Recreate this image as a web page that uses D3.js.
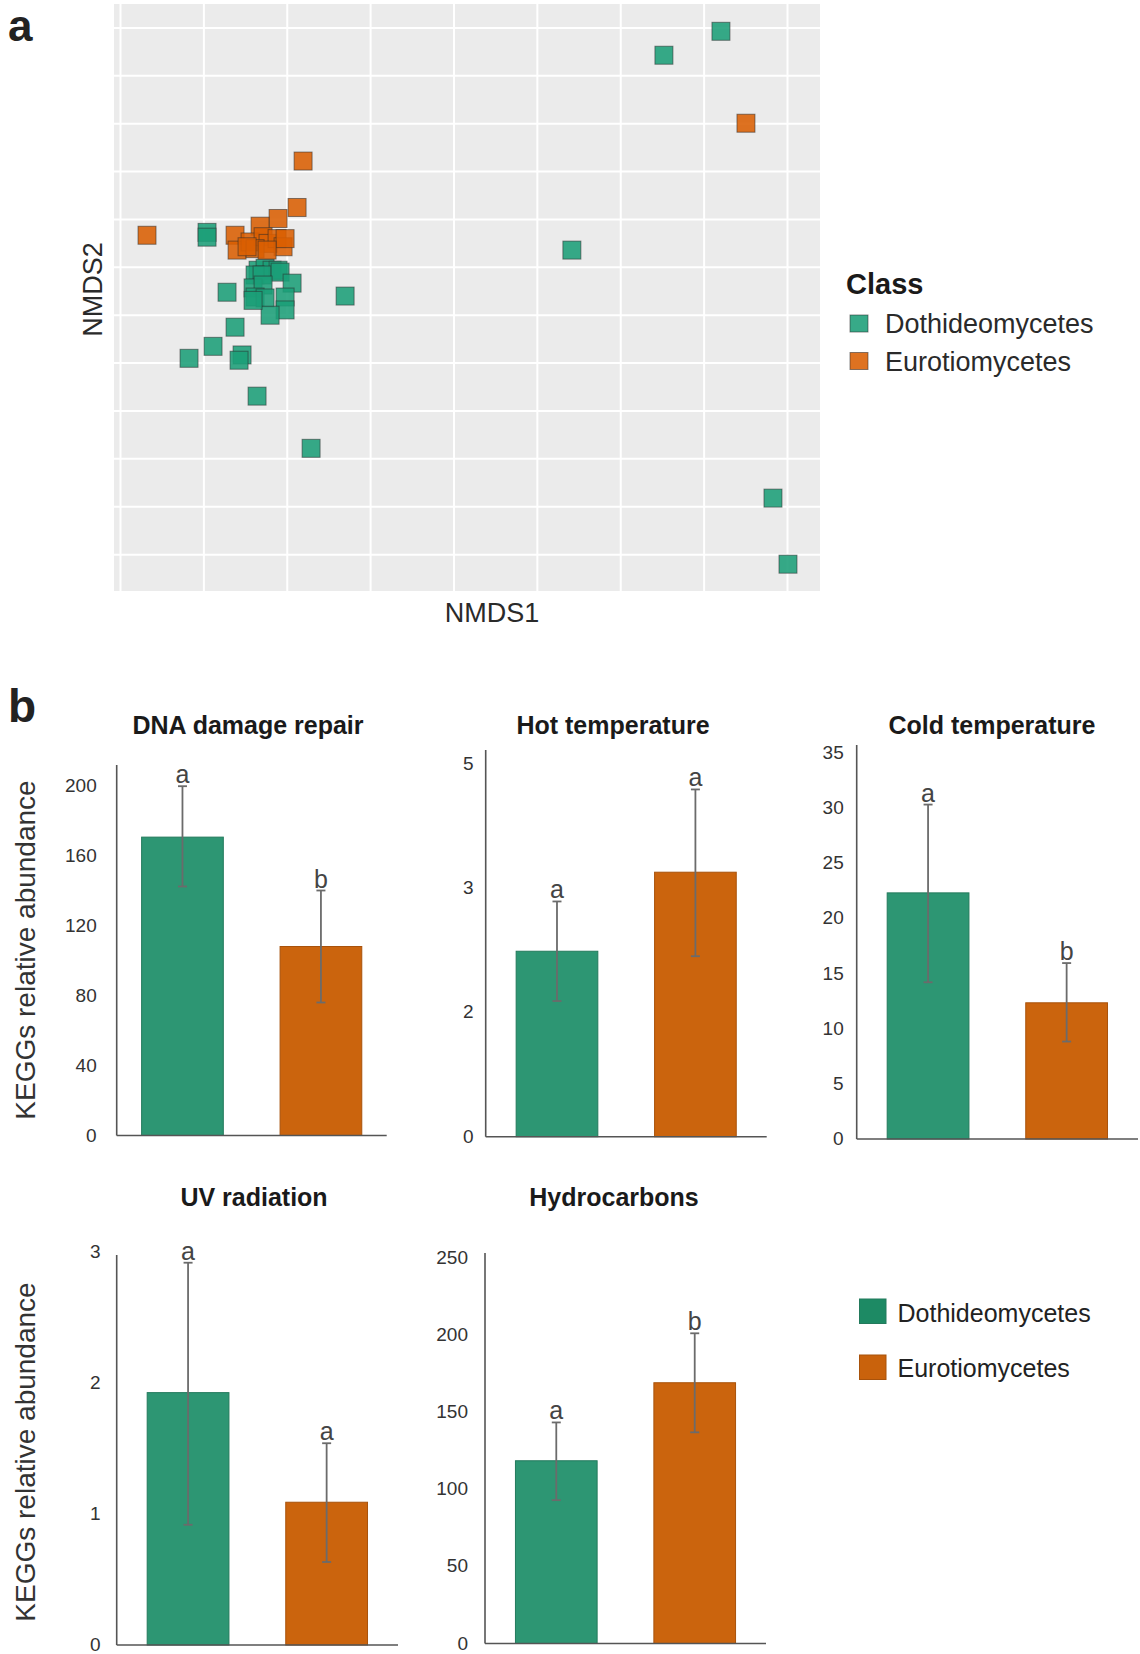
<!DOCTYPE html>
<html>
<head>
<meta charset="utf-8">
<script src="https://cdnjs.cloudflare.com/ajax/libs/d3/7.8.5/d3.min.js"></script>
<style>
body{margin:0;background:#fff;}
text{font-family:"Liberation Sans",Arial,Helvetica,sans-serif;}
</style>
</head>
<body>
<svg id="fig" width="1140" height="1654"></svg>
<script>

// ---- data: panel a (NMDS ordination) ----
var classes = ["Dothideomycetes","Eurotiomycetes"];

var dothX = [-0.239,-0.239,-0.086,-0.065,-0.044,-0.026,-0.095,-0.074,-0.020,-0.179,-0.101,0.016,-0.071,-0.005,-0.095,-0.065,-0.005,-0.050,-0.101,-0.155,0.175,-0.221,-0.293,-0.134,-0.143,-0.089,0.073,0.855,1.131,1.302,1.458,1.503];
var dothY = [0.172,0.162,0.093,0.097,0.093,0.093,0.083,0.083,0.089,0.047,0.056,0.066,0.062,0.037,0.037,0.035,0.010,-0.001,0.030,-0.026,0.039,-0.066,-0.091,-0.084,-0.095,-0.170,-0.279,0.135,0.542,0.592,-0.383,-0.521];

var euroX = [0.049,0.031,-0.026,-0.080,-0.155,-0.149,-0.110,-0.071,-0.056,-0.095,-0.029,-0.011,-0.005,-0.059,-0.119,-0.419,1.377];
var euroY = [0.321,0.224,0.201,0.185,0.166,0.135,0.152,0.163,0.149,0.138,0.159,0.142,0.159,0.135,0.142,0.166,0.400];

var nmdsXBreaks = [-0.5,-0.25,0,0.25,0.5,0.75,1,1.25,1.5];
var nmdsYBreaks = [-0.5,-0.4,-0.3,-0.2,-0.1,0,0.1,0.2,0.3,0.4,0.5,0.6];

// ---- data: panel b (KEGG abundance) ----
var panelTitles = ["DNA damage repair","Hot temperature","Cold temperature","UV radiation","Hydrocarbons"];
var meanDoth  = [170.5, 2.49, 22.3, 1.925, 118.3];
var lowDoth   = [142.3, 2.09, 14.2, 0.917,  92.8];
var highDoth  = [199.6, 2.89, 30.3, 2.916, 143.1];
var meanEuro  = [108.0, 3.25, 12.34, 1.089, 168.8];
var lowEuro   = [ 76.0, 2.45,  8.83, 0.633, 136.7];
var highEuro  = [140.0, 4.58, 15.94, 1.539, 200.8];
var letterDoth = ["a","a","a","a","a"];
var letterEuro = ["b","a","b","a","b"];
var tickVals = [
    [0,40,80,120,160,200],
    [0,2,3,5],
    [0,5,10,15,20,25,30,35],
    [0,1,2,3],
    [0,50,100,150,200,250]
];
var yTitle = "KEGGs relative abundance";

var svg = d3.select("#fig");

// ================= panel a =================
var pa = {left:114, right:820, top:4, bottom:591};

var xN = d3.scaleLinear().domain([-0.518,1.599]).range([pa.left,pa.right]);
var yN = d3.scaleLinear().domain([-0.577,0.649]).range([pa.bottom,pa.top]);

var scatterFill = d3.scaleOrdinal().domain(classes).range(["#1B9E77","#D95F02"]);

svg.append("text")
    .attr("x",8).attr("y",41)
    .style("font-size","44px").style("font-weight","bold").style("fill","#222")
    .text("a");

var gA = svg.append("g").attr("class","nmds");

gA.append("rect")
    .attr("x",pa.left).attr("y",pa.top)
    .attr("width",pa.right-pa.left).attr("height",pa.bottom-pa.top)
    .attr("fill","#EBEBEB");

// grid lines through the axis generators, labels off
gA.append("g")
    .attr("transform","translate(0,"+pa.bottom+")")
    .call(d3.axisBottom(xN).tickValues(nmdsXBreaks).tickSize(-(pa.bottom-pa.top)).tickFormat(""))
    .call(function(g){
        g.select(".domain").remove();
        g.selectAll("line").attr("stroke","#fff").attr("stroke-width",2);
    });

gA.append("g")
    .attr("transform","translate("+pa.left+",0)")
    .call(d3.axisLeft(yN).tickValues(nmdsYBreaks).tickSize(-(pa.right-pa.left)).tickFormat(""))
    .call(function(g){
        g.select(".domain").remove();
        g.selectAll("line").attr("stroke","#fff").attr("stroke-width",2);
    });

var pts = [];
dothX.forEach(function(d,i){ pts.push({x:d, y:dothY[i], cls:classes[0]}); });
euroX.forEach(function(d,i){ pts.push({x:d, y:euroY[i], cls:classes[1]}); });

var sq = 18;
gA.selectAll("rect.pt")
    .data(pts)
    .enter()
    .append("rect")
    .attr("class","pt")
    .attr("x",function(d){ return xN(d.x)-sq/2; })
    .attr("y",function(d){ return yN(d.y)-sq/2; })
    .attr("width",sq).attr("height",sq)
    .attr("fill",function(d){ return scatterFill(d.cls); })
    .attr("fill-opacity",0.88)
    .attr("stroke","#2b2b2b").attr("stroke-opacity",0.55).attr("stroke-width",1);

svg.append("text")
    .attr("x",492).attr("y",622)
    .attr("text-anchor","middle")
    .style("font-size","27px").style("fill","#2a2a2a")
    .text("NMDS1");

svg.append("text")
    .attr("transform","translate(102,"+((pa.top+pa.bottom)/2-8)+") rotate(-90)")
    .attr("text-anchor","middle")
    .style("font-size","27px").style("fill","#2a2a2a")
    .text("NMDS2");

// legend a
var legA = svg.append("g").attr("class","legendA");
legA.append("text")
    .attr("x",846).attr("y",294)
    .style("font-size","29px").style("font-weight","bold").style("fill","#1a1a1a")
    .text("Class");
classes.forEach(function(c,i){
    legA.append("rect")
        .attr("x",850).attr("y",315+i*37.5)
        .attr("width",18).attr("height",17)
        .attr("fill",scatterFill(c)).attr("fill-opacity",0.88)
        .attr("stroke","#2b2b2b").attr("stroke-opacity",0.55);
    legA.append("text")
        .attr("x",885).attr("y",333+i*37.5)
        .style("font-size","27px").style("fill","#2a2a2a")
        .text(c);
});

// ================= panel b =================
svg.append("text")
    .attr("x",8).attr("y",722)
    .style("font-size","46px").style("font-weight","bold").style("fill","#222")
    .text("b");

var barFill = d3.scaleOrdinal().domain(classes).range(["#2d9673","#cb640d"]);
var barEdge = d3.scaleOrdinal().domain(classes).range(["#237a5c","#a8520b"]);

// where each small chart sits
var layout = [
    {ax:116.7, end:386.7, y0:1135.5, yTick:785.5, top:765,  tx:248, ty:734,  pad:20, outer:0.18},
    {ax:485.7, end:766.7, y0:1136.7, yTick:763.3, top:750,  tx:613, ty:734,  pad:12, outer:0.22},
    {ax:856.7, end:1138,  y0:1139,   yTick:752.7, top:745,  tx:992, ty:734,  pad:13, outer:0.22},
    {ax:116.7, end:398,   y0:1645,   yTick:1251.7,top:1255, tx:254, ty:1206, pad:16, outer:0.22},
    {ax:485,   end:766,   y0:1643.5, yTick:1257.3,top:1253, tx:614, ty:1206, pad:17, outer:0.22}
];

panelTitles.forEach(function(title,k){
    var L = layout[k];
    var ticks = tickVals[k];
    var g = svg.append("g").attr("class","kegg");

    var x = d3.scaleBand().domain(classes)
        .range([L.ax,L.end]).paddingInner(0.41).paddingOuter(L.outer);

    // tick labels are evenly spaced on the page, so map them piecewise
    var y = d3.scaleLinear()
        .domain(ticks)
        .range(ticks.map(function(t,i){ return L.y0 + (L.yTick-L.y0)*i/(ticks.length-1); }));

    var rows = [
        {cls:classes[0], mean:meanDoth[k], lo:lowDoth[k], hi:highDoth[k], lab:letterDoth[k]},
        {cls:classes[1], mean:meanEuro[k], lo:lowEuro[k], hi:highEuro[k], lab:letterEuro[k]}
    ];

    g.append("text")
        .attr("x",L.tx).attr("y",L.ty)
        .attr("text-anchor","middle")
        .style("font-size","25px").style("font-weight","bold").style("fill","#1a1a1a")
        .text(title);

    g.append("g")
        .attr("transform","translate("+L.ax+",0)")
        .call(d3.axisLeft(y).tickValues(ticks).tickSize(0).tickPadding(L.pad).tickFormat(d3.format("d")))
        .call(function(a){
            a.select(".domain").remove();
            a.selectAll("text").style("font-size","19px").style("fill","#333")
                .attr("dy","0.3em")
                .style("font-family","'Liberation Sans',Arial,sans-serif");
        });

    g.selectAll("rect.bar")
        .data(rows)
        .enter()
        .append("rect")
        .attr("class","bar")
        .attr("x",function(d){ return x(d.cls); })
        .attr("y",function(d){ return y(d.mean); })
        .attr("width",x.bandwidth())
        .attr("height",function(d){ return y(0)-y(d.mean); })
        .attr("fill",function(d){ return barFill(d.cls); })
        .attr("stroke",function(d){ return barEdge(d.cls); })
        .attr("stroke-width",1);

    // axis lines
    g.append("line")
        .attr("x1",L.ax).attr("x2",L.ax).attr("y1",L.top).attr("y2",y(0))
        .attr("stroke","#555").attr("stroke-width",1.6);
    g.append("line")
        .attr("x1",L.ax).attr("x2",L.end).attr("y1",y(0)).attr("y2",y(0))
        .attr("stroke","#555").attr("stroke-width",1.6);

    // error bars
    var eb = g.selectAll("g.err").data(rows).enter().append("g").attr("class","err");
    eb.append("line")
        .attr("x1",function(d){ return x(d.cls)+x.bandwidth()/2; })
        .attr("x2",function(d){ return x(d.cls)+x.bandwidth()/2; })
        .attr("y1",function(d){ return y(d.lo); })
        .attr("y2",function(d){ return y(d.hi); })
        .attr("stroke","#6b6b6b").attr("stroke-width",1.8);
    ["lo","hi"].forEach(function(end){
        eb.append("line")
            .attr("x1",function(d){ return x(d.cls)+x.bandwidth()/2-4.5; })
            .attr("x2",function(d){ return x(d.cls)+x.bandwidth()/2+4.5; })
            .attr("y1",function(d){ return y(d[end]); })
            .attr("y2",function(d){ return y(d[end]); })
            .attr("stroke","#6b6b6b").attr("stroke-width",1.8);
    });

    // significance letters
    g.selectAll("text.sig")
        .data(rows)
        .enter()
        .append("text")
        .attr("class","sig")
        .attr("x",function(d){ return x(d.cls)+x.bandwidth()/2; })
        .attr("y",function(d){ return y(d.hi)-3; })
        .attr("text-anchor","middle")
        .style("font-size","25px").style("fill","#444")
        .text(function(d){ return d.lab; });
});

// shared y titles
[950,1452].forEach(function(cy){
    svg.append("text")
        .attr("transform","translate(35,"+cy+") rotate(-90)")
        .attr("text-anchor","middle")
        .style("font-size","28px").style("fill","#333")
        .text(yTitle);
});

// legend b
var legB = svg.append("g").attr("class","legendB");
var keyFill = d3.scaleOrdinal().domain(classes).range(["#1d8a64","#c9620c"]);
classes.forEach(function(c,i){
    legB.append("rect")
        .attr("x",859.5).attr("y",1299+i*56)
        .attr("width",26.5).attr("height",24.5)
        .attr("fill",keyFill(c)).attr("stroke",barEdge(c)).attr("stroke-width",1);
    legB.append("text")
        .attr("x",897.5).attr("y",1322+i*55)
        .style("font-size","25px").style("fill","#222")
        .text(c);
});

</script>
</body>
</html>
